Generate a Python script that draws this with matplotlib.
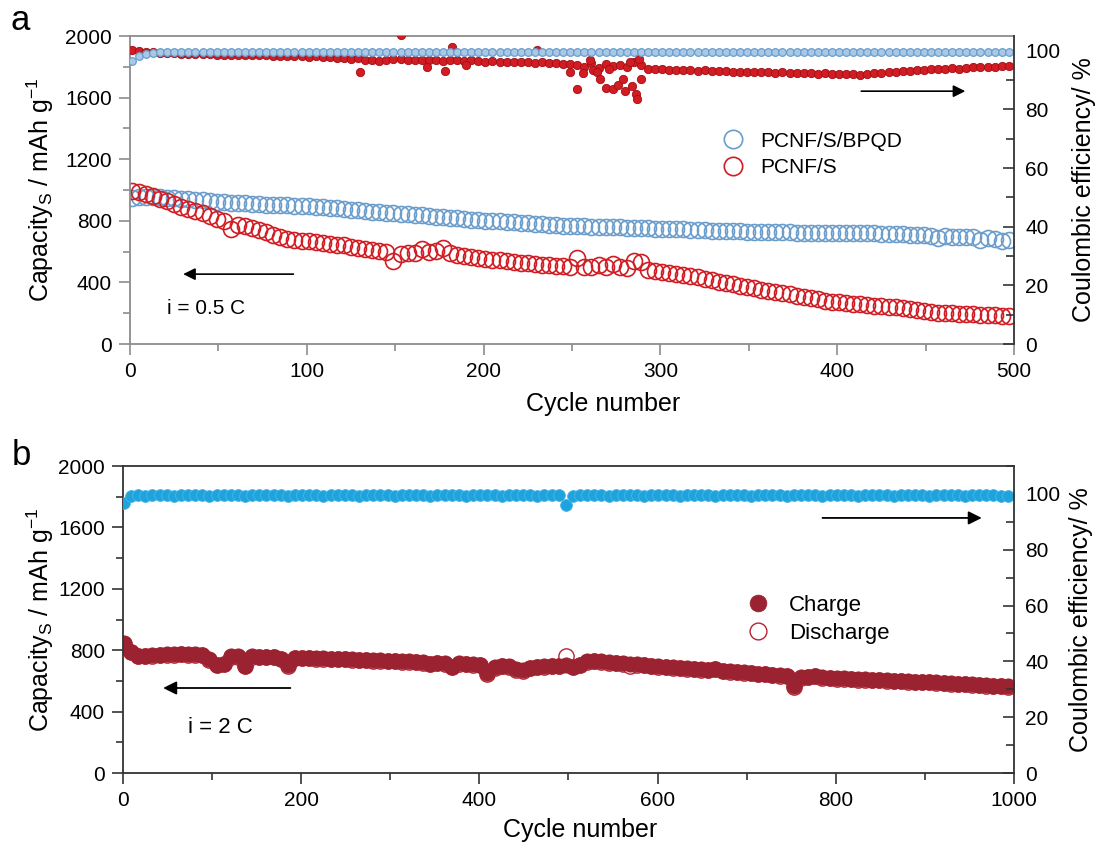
import numpy as np
import matplotlib
matplotlib.use("Agg")
import matplotlib.pyplot as plt
from matplotlib.ticker import MultipleLocator

plt.rcParams['font.family'] = ['Liberation Sans', 'DejaVu Sans']
plt.rcParams['mathtext.default'] = 'regular'

# ---- panel a : 0.5 C, every 4th cycle ----
cyc_a = np.arange(1, 501, 4)

cap_bpqd = [948, 952, 955, 955, 953, 950, 947, 943, 940, 937,
            933, 929, 925, 922, 919, 916, 913, 911, 908, 906,
            904, 902, 900, 898, 896, 894, 892, 890, 886, 882,
            878, 873, 868, 864, 860, 856, 852, 848, 846, 842,
            839, 836, 832, 828, 824, 820, 816, 812, 808, 805,
            802, 799, 796, 793, 790, 787, 784, 781, 778, 775,
            772, 769, 767, 766, 764, 763, 761, 760, 758, 757,
            755, 754, 752, 751, 749, 748, 747, 745, 744, 742,
            740, 739, 737, 735, 734, 732, 731, 730, 729, 728,
            727, 727, 726, 725, 724, 724, 723, 722, 722, 721,
            721, 720, 720, 719, 722, 718, 717, 716, 714, 712,
            710, 708, 706, 703, 688, 700, 698, 696, 694, 692,
            678, 688, 684, 668, 674]

cap_pcnf = [995, 990, 975, 960, 945, 930, 912, 893, 876, 862,
            848, 832, 815, 800, 745, 775, 765, 752, 740, 725,
            710, 696, 684, 678, 672, 668, 662, 656, 650, 645,
            640, 632, 625, 620, 612, 605, 598, 540, 584, 588,
            592, 615, 598, 606, 625, 590, 580, 572, 565, 558,
            553, 548, 543, 538, 533, 528, 524, 520, 516, 512,
            508, 504, 500, 560, 503, 498, 515, 500, 520, 498,
            494, 540, 530, 480, 475, 468, 461, 454, 447, 440,
            433, 424, 415, 406, 397, 388, 379, 370, 361, 354,
            347, 339, 331, 322, 314, 306, 298, 290, 282, 275,
            270, 266, 262, 257, 253, 249, 246, 242, 239, 233,
            226, 218, 212, 207, 204, 201, 199, 197, 195, 193,
            191, 189, 187, 185, 184]

ce_bpqd = [96.5, 98.2, 99.0, 99.3, 99.4, 99.5, 99.4, 99.5, 99.6, 99.5,
           99.5, 99.6, 99.5, 99.4, 99.5, 99.6, 99.5, 99.5, 99.6, 99.5,
           99.4, 99.5, 99.6, 99.5, 99.5, 99.6, 99.5, 99.4, 99.5, 99.6,
           99.5, 99.5, 99.6, 99.5, 99.4, 99.5, 99.6, 99.5, 99.5, 99.6,
           99.5, 99.4, 99.5, 99.6, 99.5, 99.5, 99.6, 99.5, 99.4, 99.5,
           99.6, 99.5, 99.5, 99.6, 99.5, 99.4, 99.5, 99.6, 99.5, 99.5,
           99.6, 99.5, 99.4, 99.5, 99.6, 99.5, 99.5, 99.6, 99.5, 99.4,
           99.5, 99.6, 99.5, 99.5, 99.6, 99.5, 99.4, 99.5, 99.6, 99.5,
           99.5, 99.6, 99.5, 99.4, 99.5, 99.6, 99.5, 99.5, 99.6, 99.5,
           99.4, 99.5, 99.6, 99.5, 99.5, 99.6, 99.5, 99.4, 99.5, 99.6,
           99.5, 99.5, 99.6, 99.5, 99.4, 99.5, 99.6, 99.5, 99.5, 99.6,
           99.5, 99.4, 99.5, 99.6, 99.5, 99.5, 99.6, 99.5, 99.4, 99.5,
           99.6, 99.5, 99.5, 99.6, 99.5]

ce_pcnf = [100.2, 99.8, 99.6, 99.5, 99.3, 99.2, 99.1, 99.0, 98.9, 98.9,
           98.8, 98.8, 98.7, 98.7, 98.6, 98.6, 98.5, 98.5, 98.4, 98.4,
           98.3, 98.3, 98.2, 98.2, 98.1, 98.0, 98.2, 97.9, 97.8, 97.6,
           97.5, 97.2, 97.4, 97.0, 96.8, 96.5, 97.0, 97.2, 97.1, 96.9,
           96.8, 97.0, 96.7, 96.9, 96.6, 97.0, 96.8, 96.5, 96.7, 96.5,
           96.3, 96.4, 96.2, 96.3, 96.1, 96.2, 96.0, 95.9, 96.1, 95.8,
           95.7, 95.6, 95.4, 95.0, 94.6, 95.8, 94.0, 95.5, 94.8, 95.2,
           94.5, 96.2, 95.0, 93.8, 93.7, 93.6, 93.5, 93.4, 93.5, 93.3,
           93.2, 93.3, 93.1, 93.0, 93.1, 92.9, 92.8, 92.9, 92.7, 92.6,
           92.7, 92.5, 92.6, 92.4, 92.5, 92.3, 92.4, 92.2, 92.3, 92.2,
           92.1, 92.2, 92.0, 91.8, 92.2, 92.3, 92.4, 92.6, 92.8, 93.0,
           93.2, 93.5, 93.4, 93.6, 93.8, 93.7, 94.0, 93.9, 94.2, 94.3,
           94.4, 94.5, 94.6, 94.7, 94.8]

# scattered coulombic efficiency points of PCNF/S
ce_pcnf_x = [130, 153, 168, 178, 182, 190, 230, 249, 253, 256, 260, 262, 264,
             266, 269, 271, 273, 276, 279, 280, 283, 284, 286, 287, 288, 289]
ce_pcnf_y = [92.8, 105.2, 94.4, 93.0, 101.2, 95.2, 100.4, 92.8, 86.9, 92.3,
             97.0, 93.5, 92.6, 90.3, 87.4, 93.8, 86.9, 88.2, 90.3, 86.3,
             96.0, 88.0, 85.1, 83.4, 97.2, 90.3]

# ---- panel b : 2 C, every 8th cycle ----
cyc_b = np.arange(1, 1001, 8)

charge = [847, 790, 764, 762, 768, 772, 774, 775, 776, 775,
          774, 772, 740, 705, 712, 760, 762, 700, 760, 758,
          757, 756, 745, 702, 752, 752, 750, 749, 748, 746,
          744, 743, 741, 739, 737, 735, 734, 732, 730, 728,
          727, 725, 722, 712, 720, 716, 692, 714, 712, 710,
          706, 650, 690, 698, 696, 675, 670, 685, 694, 696,
          698, 700, 702, 690, 705, 728, 732, 728, 724, 720,
          716, 712, 708, 704, 700, 697, 693, 690, 686, 683,
          680, 677, 674, 680, 668, 664, 660, 656, 652, 648,
          645, 641, 638, 632, 565, 625, 628, 632, 624, 620,
          618, 616, 614, 612, 610, 608, 606, 604, 602, 600,
          598, 596, 594, 593, 590, 587, 585, 583, 580, 578,
          575, 573, 570, 567, 565]

discharge = [840, 786, 760, 760, 765, 770, 771, 772, 774, 772,
             771, 769, 738, 703, 710, 757, 759, 698, 757, 755,
             754, 753, 742, 700, 749, 749, 747, 746, 745, 743,
             741, 740, 738, 736, 734, 732, 731, 729, 727, 725,
             724, 722, 719, 710, 717, 713, 690, 711, 709, 707,
             703, 648, 687, 695, 693, 672, 668, 682, 691, 693,
             695, 697, 765, 688, 702, 725, 729, 725, 715, 717,
             713, 700, 705, 701, 697, 694, 690, 687, 683, 680,
             677, 674, 671, 677, 665, 661, 657, 653, 649, 645,
             642, 638, 635, 629, 563, 622, 625, 629, 621, 617,
             615, 613, 611, 609, 607, 605, 603, 601, 599, 597,
             595, 593, 591, 590, 587, 584, 582, 580, 577, 575,
             572, 570, 567, 564, 562]

ce_b = [96.8, 99.3, 99.5, 99.4, 99.6, 99.5, 99.5, 99.4, 99.6, 99.5,
        99.5, 99.6, 99.4, 99.5, 99.5, 99.6, 99.5, 99.4, 99.5, 99.6,
        99.5, 99.5, 99.6, 99.4, 99.5, 99.5, 99.6, 99.5, 99.4, 99.5,
        99.6, 99.5, 99.5, 99.4, 99.6, 99.5, 99.5, 99.6, 99.4, 99.5,
        99.5, 99.6, 99.5, 99.4, 99.5, 99.6, 99.5, 99.5, 99.4, 99.6,
        99.5, 99.5, 99.6, 99.4, 99.5, 99.5, 99.6, 99.5, 99.4, 99.5,
        99.6, 99.5, 96.0, 99.4, 99.6, 99.5, 99.5, 99.6, 99.4, 99.5,
        99.5, 99.6, 99.5, 99.4, 99.5, 99.6, 99.5, 99.5, 99.4, 99.6,
        99.5, 99.5, 99.6, 99.4, 99.5, 99.5, 99.6, 99.5, 99.4, 99.5,
        99.6, 99.5, 99.5, 99.4, 99.6, 99.5, 99.5, 99.6, 99.4, 99.5,
        99.5, 99.6, 99.5, 99.4, 99.5, 99.6, 99.5, 99.5, 99.4, 99.6,
        99.5, 99.5, 99.6, 99.4, 99.5, 99.5, 99.6, 99.5, 99.4, 99.5,
        99.6, 99.5, 99.5, 99.4, 99.2]

BLUE_A = '#6a9dcc'
RED_A = '#d01c22'
RED_B = '#9b2230'
BLUE_B = '#1ea3dd'
GREY = '#8c8c8c'
DARK = '#333333'

TICK_FS = 15
LABEL_FS = 18

fig = plt.figure(figsize=(10.99, 8.42), dpi=100)
axa = fig.add_axes([0.1183, 0.5914, 0.8044, 0.3658])
axb = fig.add_axes([0.1119, 0.0819, 0.8107, 0.3646])

# ---------------- panel a ----------------
la1, = axa.plot(cyc_a, cap_bpqd, 'o', ms=11.5, mfc='none', mec=BLUE_A, mew=1.2,
                label='PCNF/S/BPQD')
la2, = axa.plot(cyc_a, cap_pcnf, 'o', ms=11.5, mfc='none', mec=RED_A, mew=1.2,
                label='PCNF/S')
axa.set_xlim(0, 500)
axa.set_ylim(0, 2000)
axa.xaxis.set_major_locator(MultipleLocator(100))
axa.xaxis.set_minor_locator(MultipleLocator(50))
axa.yaxis.set_major_locator(MultipleLocator(400))
axa.yaxis.set_minor_locator(MultipleLocator(200))
axa.tick_params(which='both', direction='out', colors=GREY, labelcolor='black',
                labelsize=TICK_FS, width=1.2)
axa.tick_params(which='major', length=8, pad=5)
axa.tick_params(which='minor', length=5)
for s in ['left', 'top', 'bottom']:
    axa.spines[s].set_color(GREY)
    axa.spines[s].set_linewidth(1.3)
axa.spines['right'].set_visible(False)
axa.set_xlabel('Cycle number', fontsize=LABEL_FS)
axa.set_ylabel('Capacity$_S$ / mAh g$^{-1}$', fontsize=LABEL_FS)
axa.xaxis.set_label_coords(0.535, -0.155)
axa.yaxis.set_label_coords(-0.084, 0.5)

axa2 = axa.twinx()
axa2.plot(cyc_a, ce_pcnf, 'o', ms=6, mfc=RED_A, mec='#a01015', mew=0.6)
axa2.plot(ce_pcnf_x, ce_pcnf_y, 'o', ms=6, mfc=RED_A, mec='#a01015', mew=0.6)
axa2.plot(cyc_a, ce_bpqd, 'o', ms=5.5, mfc='#a9c8e6', mec=BLUE_A, mew=0.9)
axa2.set_ylim(0, 105)
axa2.yaxis.set_major_locator(MultipleLocator(20))
axa2.yaxis.set_minor_locator(MultipleLocator(10))
axa2.tick_params(which='both', direction='in', colors=DARK, labelcolor='black',
                 labelsize=TICK_FS, width=1.2)
axa2.tick_params(which='major', length=8, pad=8)
axa2.tick_params(which='minor', length=6)
for s in ['left', 'top', 'bottom']:
    axa2.spines[s].set_visible(False)
axa2.spines['right'].set_color(DARK)
axa2.spines['right'].set_linewidth(1.3)
axa2.set_ylabel('Coulombic efficiency/ %', fontsize=LABEL_FS)
axa2.yaxis.set_label_coords(1.065, 0.5)

axa.legend(handles=[la1, la2], loc='upper left', bbox_to_anchor=(0.67, 0.69),
           frameon=False, fontsize=15, handlelength=1.0, handletextpad=0.8,
           labelspacing=0.35, borderpad=0, borderaxespad=0, markerscale=1.15)

axa.annotate('', xy=(0.057, 0.227), xytext=(0.188, 0.227), xycoords='axes fraction',
             arrowprops=dict(arrowstyle='-|>', color='black', lw=1.2, mutation_scale=18))
axa.annotate('', xy=(0.948, 0.821), xytext=(0.824, 0.821), xycoords='axes fraction',
             arrowprops=dict(arrowstyle='-|>', color='black', lw=1.2, mutation_scale=18))
axa.text(0.042, 0.114, 'i = 0.5 C', transform=axa.transAxes, fontsize=15,
         ha='left', va='center')

# ---------------- panel b ----------------
lb2, = axb.plot(cyc_b, discharge, 'o', ms=11, mfc='white', mec='#b52433', mew=1.0,
                label='Discharge')
lb1, = axb.plot(cyc_b, charge, 'o', ms=11, mfc=RED_B, mec=RED_B, mew=0.5,
                label='Charge')
axb.set_xlim(0, 1000)
axb.set_ylim(0, 2000)
axb.xaxis.set_major_locator(MultipleLocator(200))
axb.xaxis.set_minor_locator(MultipleLocator(100))
axb.yaxis.set_major_locator(MultipleLocator(400))
axb.yaxis.set_minor_locator(MultipleLocator(200))
axb.tick_params(which='both', direction='out', colors=DARK, labelcolor='black',
                labelsize=TICK_FS, width=1.2)
axb.tick_params(which='major', length=8, pad=5)
axb.tick_params(which='minor', length=5)
for s in ['left', 'top', 'bottom']:
    axb.spines[s].set_color(DARK)
    axb.spines[s].set_linewidth(1.3)
axb.spines['right'].set_visible(False)
axb.set_xlabel('Cycle number', fontsize=LABEL_FS)
axb.set_ylabel('Capacity$_S$ / mAh g$^{-1}$', fontsize=LABEL_FS)
axb.xaxis.set_label_coords(0.513, -0.145)
axb.yaxis.set_label_coords(-0.075, 0.5)

axb2 = axb.twinx()
axb2.plot(cyc_b, ce_b, 'o', ms=8.5, mfc=BLUE_B, mec='#4ab6e6', mew=0.6)
axb2.set_ylim(0, 110)
axb2.yaxis.set_major_locator(MultipleLocator(20))
axb2.yaxis.set_minor_locator(MultipleLocator(10))
axb2.tick_params(which='both', direction='in', colors=DARK, labelcolor='black',
                 labelsize=TICK_FS, width=1.2)
axb2.tick_params(which='major', length=8, pad=8)
axb2.tick_params(which='minor', length=6)
for s in ['left', 'top', 'bottom']:
    axb2.spines[s].set_visible(False)
axb2.spines['right'].set_color(DARK)
axb2.spines['right'].set_linewidth(1.3)
axb2.set_ylabel('Coulombic efficiency/ %', fontsize=LABEL_FS)
axb2.yaxis.set_label_coords(1.062, 0.5)

axb.legend(handles=[lb1, lb2], loc='upper left', bbox_to_anchor=(0.70, 0.58),
           frameon=False, fontsize=16, handlelength=1.0, handletextpad=0.9,
           labelspacing=0.3, borderpad=0, borderaxespad=0, markerscale=1.1)

axb.annotate('', xy=(0.042, 0.277), xytext=(0.191, 0.277), xycoords='axes fraction',
             arrowprops=dict(arrowstyle='-|>', color='black', lw=1.3, mutation_scale=20))
axb.annotate('', xy=(0.967, 0.831), xytext=(0.782, 0.831), xycoords='axes fraction',
             arrowprops=dict(arrowstyle='-|>', color='black', lw=1.3, mutation_scale=20))
axb.text(0.073, 0.147, 'i = 2 C', transform=axb.transAxes, fontsize=16,
         ha='left', va='center')

fig.text(11 / 1099, 1 - 30 / 842, 'a', fontsize=25, va='baseline', ha='left')
fig.text(12 / 1099, 1 - 465 / 842, 'b', fontsize=25, va='baseline', ha='left')

fig.savefig('out.png', dpi=100)
